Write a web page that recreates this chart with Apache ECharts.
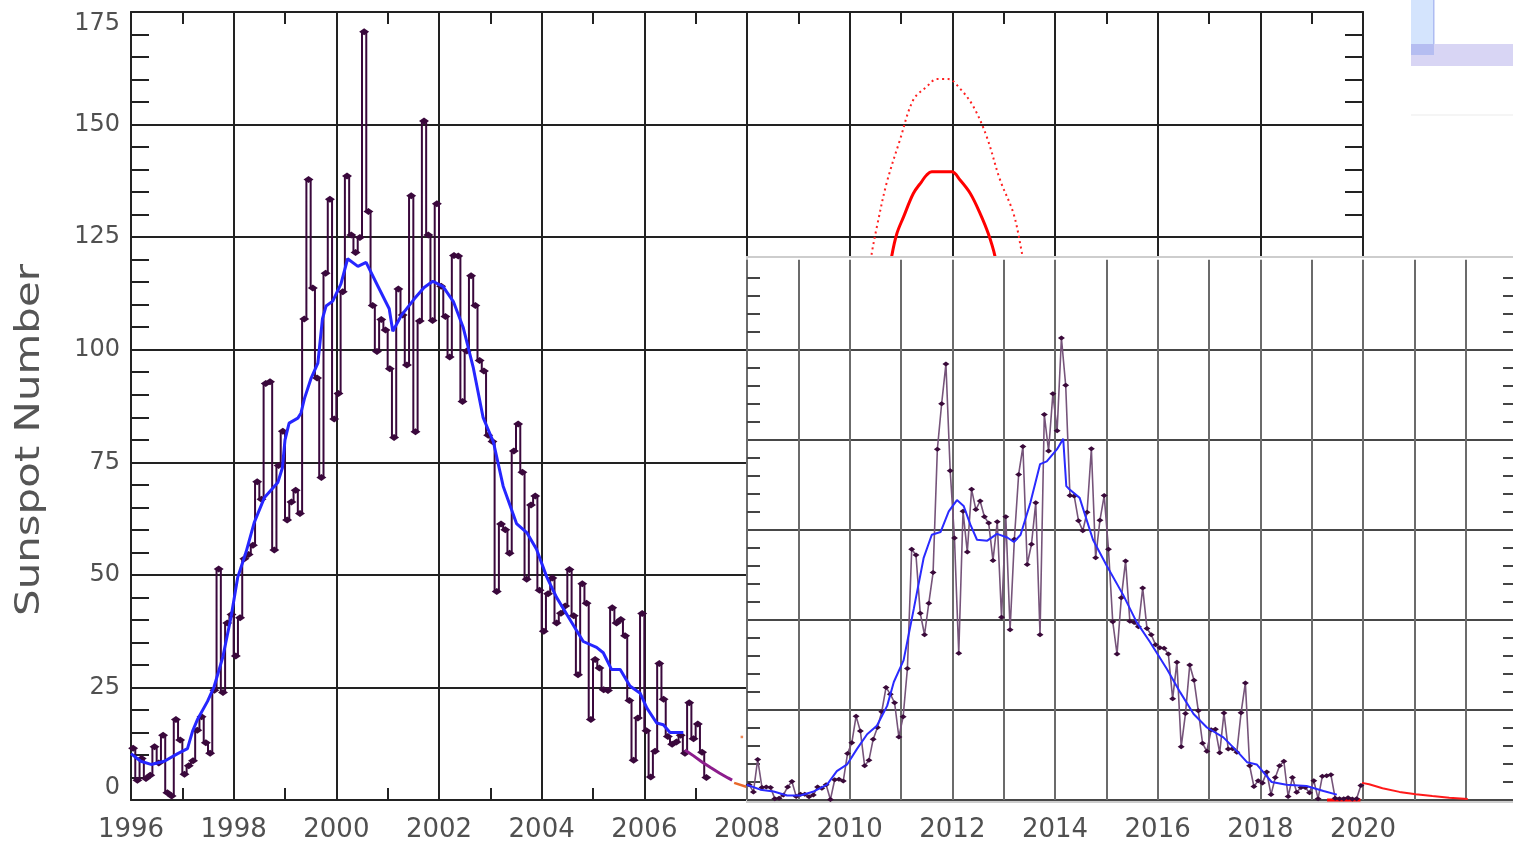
<!DOCTYPE html>
<html>
<head>
<meta charset="utf-8">
<title>Sunspot Number</title>
<script src="https://cdn.jsdelivr.net/npm/echarts@6/dist/echarts.min.js"></script>
<style>
  html, body { margin: 0; padding: 0; background: #ffffff; }
  #chart { width: 1513px; height: 841px; }
</style>
</head>
<body>
<div id="chart"></div>
<script>
// ---------- data ----------
// Monthly sunspot numbers, Jan 1996 .. Mar 2007 (main panel)
const mainMonthly = [
  11.5, 4.4, 9.2, 4.8, 5.5, 11.8, 8.2, 14.4, 1.6, 0.9, 17.9, 13.3,
  5.7, 7.6, 8.7, 15.5, 18.5, 12.7, 10.4, 24.4, 51.3, 23.9, 39.3, 41.2,
  32.0, 40.5, 53.6, 54.5, 56.6, 70.7, 66.8, 92.5, 92.9, 55.5, 74.3, 81.9,
  62.2, 66.2, 68.8, 63.6, 106.8, 137.8, 113.7, 93.7, 71.6, 117.0, 133.4, 84.6,
  90.3, 112.9, 138.6, 125.5, 121.6, 124.9, 170.6, 130.7, 109.8, 99.6, 106.7, 104.4,
  95.8, 80.5, 113.5, 107.7, 96.6, 134.2, 81.8, 106.4, 150.8, 125.5, 106.5, 132.4,
  114.1, 107.4, 98.4, 120.9, 120.8, 88.5, 99.7, 116.4, 109.8, 97.6, 95.3, 81.0,
  79.6, 46.3, 61.3, 60.0, 54.8, 77.5, 83.5, 72.8, 49.0, 65.5, 67.5, 46.6,
  37.5, 45.8, 49.3, 39.3, 41.5, 43.1, 51.2, 40.9, 27.8, 48.0, 43.7, 17.9,
  31.2, 29.3, 24.5, 24.3, 42.7, 39.3, 40.1, 36.5, 22.1, 8.8, 18.2, 41.4,
  15.4, 5.1, 10.8, 30.3, 22.4, 14.1, 12.4, 12.9, 14.4, 10.4, 21.6, 13.6,
  16.9, 10.6, 5.0
];
const mainStartYear = 1996;

// Smoothed sunspot number (main panel)
const mainSmoothYears = [
  1996.00, 1996.19, 1996.39, 1996.65, 1996.91, 1997.10, 1997.20, 1997.30, 1997.49, 1997.62,
  1997.79, 1997.95, 1998.08, 1998.24, 1998.40, 1998.60, 1998.86, 1998.95, 1999.00, 1999.08,
  1999.25, 1999.31, 1999.38, 1999.51, 1999.64, 1999.73, 1999.80, 1999.93, 2000.09, 2000.22,
  2000.42, 2000.58, 2000.81, 2001.03, 2001.10, 2001.26, 2001.52, 2001.71, 2001.88, 2002.08,
  2002.28, 2002.47, 2002.67, 2002.86, 2003.06, 2003.25, 2003.51, 2003.71, 2003.90, 2004.10,
  2004.29, 2004.55, 2004.81, 2005.07, 2005.20, 2005.36, 2005.53, 2005.72, 2005.92, 2006.05,
  2006.24, 2006.37, 2006.50, 2006.76
];
const mainSmoothValues = [
  10.3, 8.6, 7.9, 8.6, 10.3, 11.4, 15.3, 18.0, 21.9, 25.2,
  31.8, 40.7, 49.5, 55.0, 61.6, 67.2, 70.5, 73.8, 80.0, 83.7,
  84.8, 85.9, 89.2, 93.7, 97.0, 106.9, 109.7, 110.8, 114.6, 120.2,
  118.5, 119.4, 114.1, 109.1, 104.1, 107.5, 111.3, 113.8, 115.2, 114.0,
  110.7, 105.0, 95.9, 84.9, 79.5, 69.7, 61.4, 59.4, 55.7, 49.5,
  45.0, 40.1, 35.2, 33.9, 32.7, 29.0, 29.0, 25.3, 23.7, 20.4,
  17.1, 16.7, 15.0, 15.0
];

// Projected smoothed values after the last observations
const projYears = [2006.79, 2006.96, 2007.13, 2007.29, 2007.46, 2007.63, 2007.71];
const projValues = [11.1, 9.8, 8.4, 7.2, 6.0, 4.9, 4.4];
const earlyYears = [2007.75, 2008.0];
const earlyValues = [3.8, 2.9];
const earlyDot = [[2007.90, 14.0]];

// Cycle 24 predictions (solid and dotted curves)
const predYears = [2010.70, 2010.82, 2010.92, 2011.05, 2011.24, 2011.40, 2011.50, 2011.60, 2011.99,
  2012.15, 2012.35, 2012.54, 2012.70, 2012.83, 2012.95];
const predValues = [112, 120.8, 125.8, 129.5, 134.7, 137.3, 138.8, 139.5, 139.5,
  137.7, 134.7, 130.3, 125.8, 120.8, 113];
const predHighYears = [2010.35, 2010.43, 2010.53, 2010.72, 2010.98, 2011.24, 2011.50, 2011.70,
  2011.92, 2012.15, 2012.41, 2012.67, 2012.93, 2013.19, 2013.35, 2013.45];
const predHighValues = [115, 121.4, 127.3, 137.0, 146.6, 155.5, 158.4, 160.1,
  160.1, 158.0, 154.0, 147.3, 137.7, 130.3, 121.8, 115];

// Monthly sunspot numbers, Jan 2008 .. Dec 2019 (inset panel)
const insetMonthly = [
  3.4, 1.8, 9.0, 2.8, 2.9, 2.8, 0.3, 0.4, 1.1, 2.9, 4.1, 0.8,
  1.3, 1.3, 0.7, 1.1, 2.9, 2.6, 3.4, 0.1, 4.5, 4.6, 4.2, 10.3,
  12.7, 18.6, 15.3, 7.6, 8.8, 13.5, 16.1, 19.6, 25.0, 23.5, 21.6, 14.0,
  18.5, 29.2, 55.7, 54.4, 41.5, 36.7, 43.7, 50.5, 77.9, 88.0, 96.8, 73.1,
  58.2, 32.6, 64.1, 55.1, 69.0, 64.5, 66.4, 62.9, 61.5, 53.2, 61.8, 40.6,
  62.9, 37.8, 57.9, 72.3, 78.5, 52.3, 56.8, 66.0, 36.7, 85.6, 77.5, 90.2,
  82.0, 102.6, 92.1, 67.6, 67.5, 62.0, 59.8, 63.9, 78.0, 53.8, 62.1, 67.6,
  55.7, 39.6, 32.4, 44.9, 53.1, 39.7, 39.4, 38.5, 47.1, 38.1, 36.7, 34.5,
  33.8, 33.7, 32.4, 22.5, 30.6, 11.8, 19.2, 30.0, 26.6, 19.8, 12.6, 10.8,
  15.6, 15.7, 10.5, 19.3, 11.3, 11.4, 10.6, 19.4, 26.0, 7.6, 3.0, 4.3,
  3.8, 6.2, 1.2, 5.0, 7.6, 8.6, 0.8, 5.0, 1.7, 2.8, 2.8, 1.6,
  4.3, 0.3, 5.3, 5.4, 5.6, 0.4, 0.3, 0.3, 0.5, 0.2, 0.3, 3.2
];
const insetStartYear = 2008;

// Smoothed sunspot number (inset panel)
const insetSmoothYears = [
  2008.00, 2008.26, 2008.52, 2008.78, 2009.04, 2009.30, 2009.56, 2009.75, 2009.95, 2010.14,
  2010.34, 2010.53, 2010.73, 2010.86, 2011.05, 2011.25, 2011.44, 2011.60, 2011.77, 2011.93,
  2012.09, 2012.22, 2012.35, 2012.48, 2012.68, 2012.87, 2013.07, 2013.20, 2013.33, 2013.52,
  2013.71, 2013.84, 2014.04, 2014.16, 2014.22, 2014.28, 2014.48, 2014.74, 2015.00, 2015.33,
  2015.59, 2015.85, 2016.18, 2016.44, 2016.70, 2016.96, 2017.28, 2017.54, 2017.74, 2017.93,
  2018.22, 2018.51, 2018.90, 2019.23, 2019.49
];
const insetSmoothValues = [
  3.4, 2.3, 1.9, 1.0, 1.0, 1.9, 3.4, 6.4, 7.9, 11.3,
  14.6, 16.5, 20.9, 26.2, 31.0, 42.5, 53.7, 58.9, 59.5, 64.1,
  66.6, 65.3, 61.2, 57.8, 57.6, 59.1, 58.3, 57.3, 58.9, 66.0,
  74.6, 75.2, 77.9, 80.2, 69.7, 69.0, 67.1, 57.8, 52.2, 45.5,
  39.5, 35.1, 29.1, 23.9, 19.1, 16.1, 13.9, 10.9, 8.4, 7.9,
  4.0, 3.4, 3.1, 2.0, 1.2
];

// Forecast after the last observation, and the flagged minimum interval
const forecastYears = [2019.98, 2020.12, 2020.38, 2020.71, 2021.03, 2021.35, 2021.68, 2022.04];
const forecastValues = [3.8, 3.5, 2.6, 1.8, 1.3, 0.9, 0.5, 0.2];
const minimumYears = [2019.30, 2019.95];
const minimumValues = [0, 0];

// Axis ticks
const mainYearTicks = { min: 1996, max: 2020, step: 2 };
const mainValueTicks = { min: 0, max: 175, step: 25 };
const insetYearTicks = { min: 2008, step: 1 };
const insetValueTicks = { min: 0, max: 120, step: 20 };

// ---------- helpers ----------
const monthly = (start, values) => values.map((v, i) => [start + (i + 0.5) / 12, v]);
const paired = (xs, ys) => xs.map((x, i) => [x, ys[i]]);

// ---------- layout / style ----------
const FONT = 'DejaVu Sans';
const LABEL = '#505050';
const INK = '#222222';
const PX_PER_YEAR = 1232 / (mainYearTicks.max - mainYearTicks.min);
const PX_PER_UNIT = 788 / mainValueTicks.max;
const insetLeft = 131 + (insetYearTicks.min - mainYearTicks.min) * PX_PER_YEAR;
const insetWidth = 1513 - insetLeft;
const insetHeight = insetValueTicks.max * PX_PER_UNIT;
const insetMaxYear = insetYearTicks.min + insetWidth / PX_PER_YEAR;

const mainTickLine = { color: INK, width: 2 };
const insetTickLine = { color: '#444444', width: 2 };

const chart = echarts.init(document.getElementById('chart'), null, { renderer: 'canvas' });

chart.setOption({
  animation: false,
  backgroundColor: '#ffffff',
  textStyle: { fontFamily: FONT },
  grid: [
    { left: 131, top: 12, width: 1232, height: 788, show: false, outerBoundsMode: 'none', containLabel: false },
    { left: insetLeft, top: 800 - insetHeight, width: insetWidth, height: insetHeight,
      show: false, zlevel: 1, outerBoundsMode: 'none', containLabel: false }
  ],
  xAxis: [
    {
      type: 'value', gridIndex: 0, position: 'bottom',
      min: mainYearTicks.min, max: mainYearTicks.max, interval: mainYearTicks.step,
      axisLine: { show: true, onZero: false, lineStyle: mainTickLine },
      axisTick: { show: false, inside: true },
      minorTick: { show: true, splitNumber: 2, length: 12, lineStyle: mainTickLine },
      axisLabel: { show: true, margin: 17, color: LABEL, fontFamily: FONT, fontSize: 26,
        formatter: v => String(v) },
      splitLine: { show: true, lineStyle: mainTickLine }
    },
    {
      type: 'value', gridIndex: 0, position: 'top',
      min: mainYearTicks.min, max: mainYearTicks.max, interval: mainYearTicks.step,
      axisLine: { show: true, onZero: false, lineStyle: mainTickLine },
      axisTick: { show: false, inside: true },
      minorTick: { show: true, splitNumber: 2, length: 12, lineStyle: mainTickLine },
      axisLabel: { show: false },
      splitLine: { show: false }
    },
    {
      type: 'value', gridIndex: 1, zlevel: 1, z: 2,
      min: insetYearTicks.min, max: insetMaxYear, interval: insetYearTicks.step,
      axisLine: { show: false },
      axisTick: { show: false },
      axisLabel: { show: false },
      splitLine: { show: true, showMaxLine: false, lineStyle: { color: '#6b6b6b', width: 2 } }
    }
  ],
  yAxis: [
    {
      type: 'value', gridIndex: 0, position: 'left',
      min: mainValueTicks.min, max: mainValueTicks.max, interval: mainValueTicks.step,
      axisLine: { show: true, onZero: false, lineStyle: mainTickLine },
      axisTick: { show: false, inside: true },
      minorTick: { show: true, splitNumber: 5, length: 18, lineStyle: mainTickLine },
      axisLabel: { show: true, margin: 11, color: LABEL, fontFamily: FONT, fontSize: 24,
        verticalAlignMinLabel: 'bottom', verticalAlignMaxLabel: 'top',
        formatter: v => String(v) },
      splitLine: { show: true, lineStyle: mainTickLine }
    },
    {
      type: 'value', gridIndex: 0, position: 'right',
      min: mainValueTicks.min, max: mainValueTicks.max, interval: mainValueTicks.step,
      axisLine: { show: true, onZero: false, lineStyle: mainTickLine },
      axisTick: { show: false, inside: true },
      minorTick: { show: true, splitNumber: 5, length: 18, lineStyle: mainTickLine },
      axisLabel: { show: false },
      splitLine: { show: false }
    },
    {
      type: 'value', gridIndex: 1, position: 'left', zlevel: 1, z: 2,
      min: insetValueTicks.min, max: insetValueTicks.max, interval: insetValueTicks.step,
      axisLine: { show: false },
      axisTick: { show: false, inside: true },
      minorTick: { show: true, splitNumber: 5, length: 13, lineStyle: insetTickLine },
      axisLabel: { show: false },
      splitLine: { show: true, showMaxLine: false, lineStyle: { color: '#474747', width: 2 } }
    },
    {
      type: 'value', gridIndex: 1, position: 'right', zlevel: 1, z: 2,
      min: insetValueTicks.min, max: insetValueTicks.max, interval: insetValueTicks.step,
      axisLine: { show: false },
      axisTick: { show: false, inside: true },
      minorTick: { show: true, splitNumber: 5, length: 10, lineStyle: insetTickLine },
      axisLabel: { show: false },
      splitLine: { show: false }
    }
  ],
  graphic: [
    {
      type: 'text', zlevel: 0, x: 30, y: 440, rotation: Math.PI / 2, scaleX: 1.27,
      style: { text: 'Sunspot Number', fontFamily: FONT, fontSize: 33, fill: '#555555',
        align: 'center', verticalAlign: 'middle' }
    },
    {
      type: 'rect', zlevel: 1, z: 0,
      shape: { x: insetLeft, y: 257, width: insetWidth + 2, height: 545 },
      style: { fill: '#ffffff', stroke: '#cdcdcd', lineWidth: 2 }
    },
    { type: 'rect', zlevel: 0, shape: { x: 1411, y: 0, width: 23, height: 44 }, style: { fill: '#d4e4fd' } },
    { type: 'rect', zlevel: 0, shape: { x: 1433, y: 0, width: 1.5, height: 55 }, style: { fill: '#aebcf2' } },
    { type: 'rect', zlevel: 0, shape: { x: 1411, y: 44, width: 23, height: 11 }, style: { fill: '#b5bdf1' } },
    { type: 'rect', zlevel: 0, shape: { x: 1434, y: 44, width: 79, height: 22 }, style: { fill: '#d8d5f4' } },
    { type: 'rect', zlevel: 0, shape: { x: 1411, y: 55, width: 23, height: 11 }, style: { fill: '#d8d5f4' } },
    { type: 'rect', zlevel: 0, shape: { x: 1411, y: 114.5, width: 102, height: 1 }, style: { fill: '#ececec' } }
  ],
  series: [
    // ----- main panel -----
    {
      name: 'Cycle 24 prediction (high)', type: 'line', xAxisIndex: 0, yAxisIndex: 0, z: 2,
      data: paired(predHighYears, predHighValues), symbol: 'none', smooth: 0.35,
      lineStyle: { color: '#ff2020', width: 2, type: [2, 3.5] }
    },
    {
      name: 'Cycle 24 prediction', type: 'line', xAxisIndex: 0, yAxisIndex: 0, z: 2,
      data: paired(predYears, predValues), symbol: 'none', smooth: 0.35,
      lineStyle: { color: '#ff0000', width: 3 }
    },
    {
      name: 'Monthly', type: 'line', xAxisIndex: 0, yAxisIndex: 0, z: 3,
      data: monthly(mainStartYear, mainMonthly), step: 'middle',
      symbol: 'diamond', symbolSize: [10, 7],
      itemStyle: { color: '#3a083c' },
      lineStyle: { color: '#3a083c', width: 2 }
    },
    {
      name: 'Smoothed', type: 'line', xAxisIndex: 0, yAxisIndex: 0, z: 4,
      data: paired(mainSmoothYears, mainSmoothValues), symbol: 'none',
      lineStyle: { color: '#2626ff', width: 3 }
    },
    {
      name: 'Projected', type: 'line', xAxisIndex: 0, yAxisIndex: 0, z: 4,
      data: paired(projYears, projValues), symbol: 'none',
      lineStyle: { color: '#8c1c8c', width: 3 }
    },
    {
      name: 'Early forecast', type: 'line', xAxisIndex: 0, yAxisIndex: 0, z: 4,
      data: paired(earlyYears, earlyValues), symbol: 'none',
      lineStyle: { color: '#e8682a', width: 2.5 }
    },
    {
      name: 'Early forecast point', type: 'scatter', xAxisIndex: 0, yAxisIndex: 0, z: 4,
      data: earlyDot, symbol: 'rect', symbolSize: 2.5,
      itemStyle: { color: '#e8682a' }
    },
    // ----- inset panel -----
    {
      name: 'Monthly (recent)', type: 'line', xAxisIndex: 2, yAxisIndex: 2, zlevel: 1, z: 4,
      data: monthly(insetStartYear, insetMonthly),
      symbol: 'diamond', symbolSize: [7, 5],
      itemStyle: { color: '#3a0a3a' },
      lineStyle: { color: '#76547a', width: 1.6 }
    },
    {
      name: 'Smoothed (recent)', type: 'line', xAxisIndex: 2, yAxisIndex: 2, zlevel: 1, z: 5,
      data: paired(insetSmoothYears, insetSmoothValues), symbol: 'none',
      lineStyle: { color: '#2a2aff', width: 2 }
    },
    {
      name: 'Forecast', type: 'line', xAxisIndex: 2, yAxisIndex: 2, zlevel: 1, z: 5,
      data: paired(forecastYears, forecastValues), symbol: 'none',
      lineStyle: { color: '#ff1a1a', width: 2 }
    },
    {
      name: 'Minimum', type: 'line', xAxisIndex: 2, yAxisIndex: 2, zlevel: 1, z: 3,
      data: paired(minimumYears, minimumValues), symbol: 'none', clip: false,
      lineStyle: { color: '#ff0000', width: 3 }
    }
  ]
});
</script>
</body>
</html>
